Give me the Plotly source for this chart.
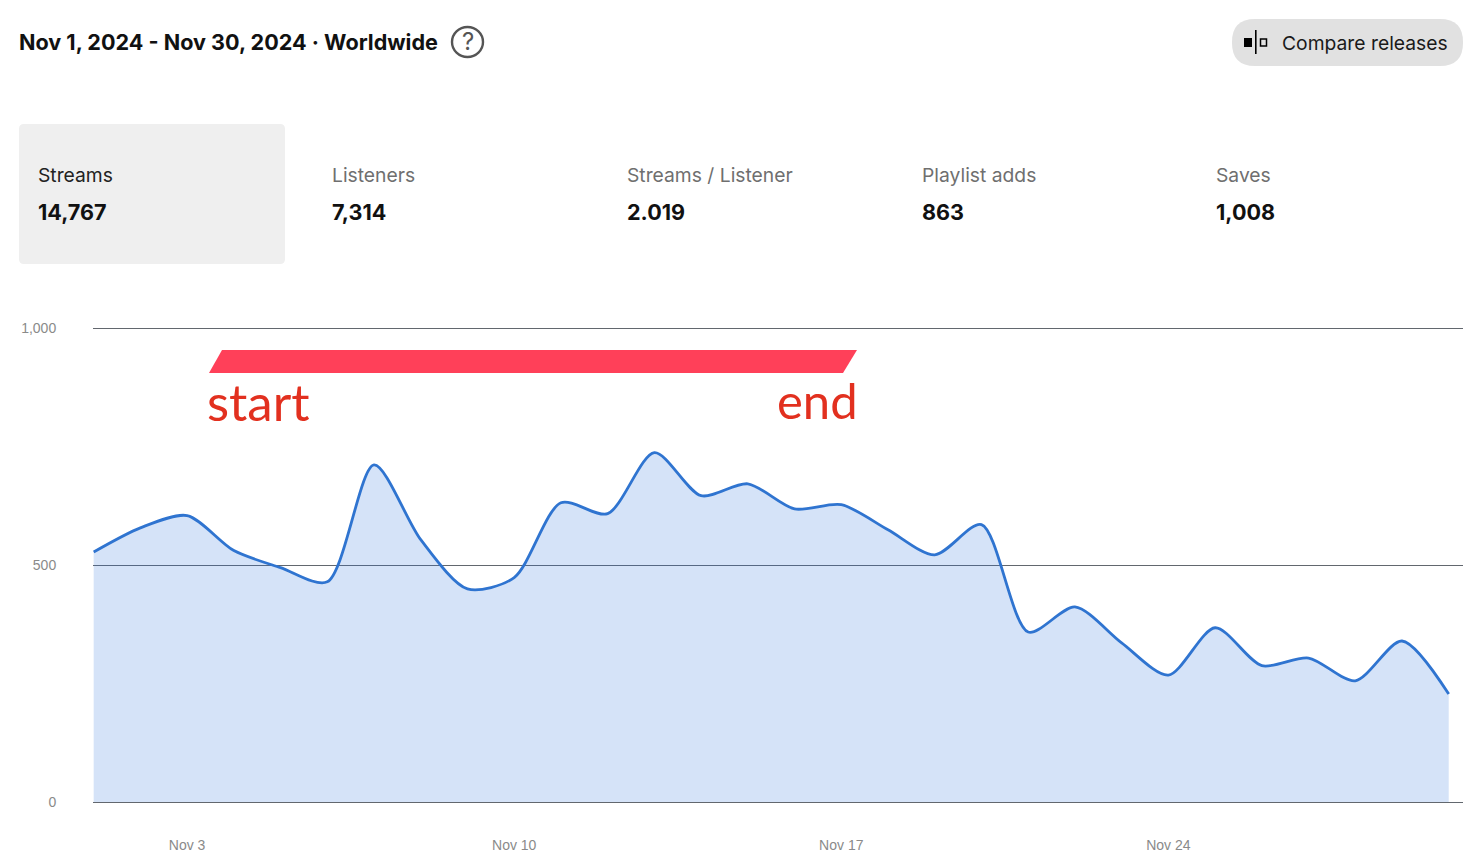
import plotly.graph_objects as go

W = 1480
H = 865
PLOT_L = 93
PLOT_R = 1463
PLOT_T = 327
PLOT_B = 804

# daily streams
days = ["2024-11-%02d" % d for d in range(1, 31)]
streams = [528, 579, 605, 531, 495, 465, 712, 554, 450, 474,
           632, 609, 738, 647, 672, 619, 628, 575, 522, 586,
           359, 412, 336, 268, 368, 288, 304, 256, 340, 228]

x_tick_vals = ["2024-11-03", "2024-11-10", "2024-11-17", "2024-11-24"]
x_tick_text = ["Nov 3", "Nov 10", "Nov 17", "Nov 24"]
y_tick_vals = [0, 500, 1000]
y_tick_text = ["0", "500", "1,000"]

stat_names = ["Streams", "Listeners", "Streams / Listener", "Playlist adds", "Saves"]
stat_values = ["14,767", "7,314", "2.019", "863", "1,008"]
stat_x = [36, 330, 625, 920, 1214]

title_text = "Nov 1, 2024 - Nov 30, 2024 · Worldwide"
FONT = "Inter"


# paper coords are relative to the plot area, so convert from page pixels
def px_x(x):
    return (x - PLOT_L) / (PLOT_R - PLOT_L)


def px_y(y):
    return (PLOT_B - y) / (PLOT_B - PLOT_T)


def round_rect(x0, y0, x1, y1, r):
    return ("M %f %f L %f %f Q %f %f %f %f L %f %f Q %f %f %f %f L %f %f Q %f %f %f %f L %f %f Q %f %f %f %f Z" % (
        px_x(x0 + r), px_y(y0),
        px_x(x1 - r), px_y(y0), px_x(x1), px_y(y0), px_x(x1), px_y(y0 + r),
        px_x(x1), px_y(y1 - r), px_x(x1), px_y(y1), px_x(x1 - r), px_y(y1),
        px_x(x0 + r), px_y(y1), px_x(x0), px_y(y1), px_x(x0), px_y(y1 - r),
        px_x(x0), px_y(y0 + r), px_x(x0), px_y(y0), px_x(x0 + r), px_y(y0)))


def label(x, y, text, size, color, weight=400, anchor="left", family=FONT):
    return dict(xref="paper", yref="paper", x=px_x(x), y=px_y(y), text=text, showarrow=False,
                xanchor=anchor, yanchor="middle", font=dict(family=family, size=size, color=color, weight=weight))


def box(x0, y0, x1, y1, fill=None, line=None, width=1):
    return dict(type="rect", xref="paper", yref="paper", x0=px_x(x0), x1=px_x(x1), y0=px_y(y0), y1=px_y(y1),
                fillcolor=fill, line=dict(color=line, width=width if line else 0))


fig = go.Figure()
fig.add_trace(go.Scatter(x=days, y=streams, mode="lines", fill="tozeroy",
                         fillcolor="rgba(47,117,218,0.2)",
                         line=dict(color="#2f74d0", width=2.8, shape="spline", smoothing=0.8),
                         hoverinfo="x+y", showlegend=False))

shapes = [
    dict(type="path", xref="paper", yref="paper", path=round_rect(19, 124, 285, 264, 5),
         fillcolor="#efefef", line=dict(width=0), layer="below"),
    dict(type="path", xref="paper", yref="paper", path=round_rect(1232, 19, 1463, 66, 23),
         fillcolor="#e1e1e1", line=dict(width=0), layer="below"),
    # help icon
    dict(type="circle", xref="paper", yref="paper", x0=px_x(452), x1=px_x(483), y0=px_y(57), y1=px_y(27),
         fillcolor="rgba(0,0,0,0)", line=dict(color="#555555", width=2.4)),
    # compare icon
    box(1244, 38, 1252, 47, fill="#000000"),
    box(1255, 30, 1256.6, 54, fill="#000000"),
    box(1260.5, 39, 1266.5, 46, line="#000000", width=1.5),
    # red marker bar from the screenshot
    dict(type="path", xref="paper", yref="paper", fillcolor="#ff4059", line=dict(width=0),
         path="M %f %f L %f %f L %f %f L %f %f Z" % (
             px_x(222), px_y(350), px_x(857), px_y(350), px_x(843), px_y(373), px_x(209), px_y(373))),
]

annotations = [
    label(17, 41.5, title_text, 21.6, "#111111", 700),
    label(467.5, 41.5, "?", 24, "#555555", 400, anchor="center"),
    label(1280, 42.5, "Compare releases", 19.3, "#1a1a1a", 400),
    label(205, 401, "start", 51, "#e2301f", 400, family="Lato"),
    label(860, 400, "end", 49, "#e2301f", 400, anchor="right", family="Lato"),
]
for i in range(len(stat_names)):
    name_color = "#222222" if i == 0 else "#6f6f6f"
    annotations.append(label(stat_x[i], 175, stat_names[i], 19.3, name_color, 400))
    annotations.append(label(stat_x[i], 212, stat_values[i], 21.6, "#111111", 700))

fig.update_layout(
    width=W,
    height=H,
    autosize=False,
    margin=dict(l=PLOT_L, r=W - PLOT_R, t=PLOT_T, b=H - PLOT_B),
    paper_bgcolor="#ffffff",
    plot_bgcolor="#ffffff",
    shapes=shapes,
    annotations=annotations,
    xaxis=dict(range=["2024-10-31 23:40", "2024-11-30 07:20"], tickmode="array",
               tickvals=x_tick_vals, ticktext=x_tick_text, showgrid=False, zeroline=False,
               ticks="outside", ticklen=28, tickcolor="rgba(0,0,0,0)", showline=False, automargin=False,
               tickfont=dict(family="Liberation Sans", size=14, color="#8a8a8a")),
    # small slack so the gridlines at 0 and 1,000 are not dropped at the range ends
    yaxis=dict(range=[-4.2, 1003.2], tickmode="array", tickvals=y_tick_vals, ticktext=y_tick_text,
               showgrid=True, gridcolor="#62676e", gridwidth=1, zeroline=False, showline=False,
               ticks="outside", ticklen=33, tickcolor="rgba(0,0,0,0)", automargin=False,
               tickfont=dict(family="Liberation Sans", size=14, color="#8a8a8a")),
)

fig.write_html("out.html", config=dict(displayModeBar=False), post_script="document.body.style.margin='0';")
